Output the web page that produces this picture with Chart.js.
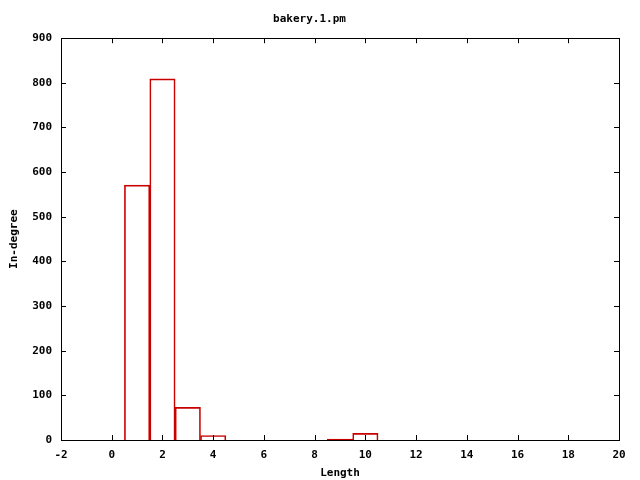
<!DOCTYPE html>
<html>
<head>
<meta charset="utf-8">
<script src="https://cdn.jsdelivr.net/npm/chart.js@4/dist/chart.umd.min.js"></script>
<style>
  html, body { margin: 0; padding: 0; background: #fff; }
  #wrap { width: 640px; height: 480px; }
</style>
</head>
<body>
<div id="wrap"><canvas id="histo"></canvas></div>
<script>
const lengths = [1, 2, 3, 4, 9, 10];
const inDegree = [571, 809, 73, 10, 2, 15];
const xTicks = [-2, 0, 2, 4, 6, 8, 10, 12, 14, 16, 18, 20];
const yTicks = [0, 100, 200, 300, 400, 500, 600, 700, 800, 900];

const monoFont = { family: "'DejaVu Sans Mono', monospace", size: 11, weight: 'bold' };

// gnuplot style frame: box plus inward ticks mirrored on all four sides
const frame = {
  id: 'frame',
  afterDatasetsDraw(chart) {
    const { ctx, chartArea: a, scales } = chart;
    const tl = 5;
    ctx.save();
    ctx.strokeStyle = '#000';
    ctx.lineWidth = 1;
    ctx.beginPath();
    scales.x.ticks.forEach(t => {
      const px = Math.round(scales.x.getPixelForValue(t.value)) + 0.5;
      ctx.moveTo(px, a.bottom); ctx.lineTo(px, a.bottom - tl);
      ctx.moveTo(px, a.top); ctx.lineTo(px, a.top + tl);
    });
    scales.y.ticks.forEach(t => {
      const py = Math.round(scales.y.getPixelForValue(t.value)) + 0.5;
      ctx.moveTo(a.left, py); ctx.lineTo(a.left + tl, py);
      ctx.moveTo(a.right, py); ctx.lineTo(a.right - tl, py);
    });
    ctx.stroke();
    ctx.strokeRect(Math.round(a.left) + 0.5, Math.round(a.top) + 0.5,
      Math.round(a.right - a.left), Math.round(a.bottom - a.top));
    ctx.restore();
  }
};

new Chart(document.getElementById('histo'), {
  type: 'bar',
  data: {
    datasets: [{
      data: lengths.map((x, i) => ({ x: x, y: inDegree[i] })),
      backgroundColor: 'rgba(0,0,0,0)',
      borderColor: '#c80000',
      borderWidth: 1,
      barPercentage: 1,
      categoryPercentage: 1
    }]
  },
  options: {
    responsive: true,
    maintainAspectRatio: false,
    animation: false,
    layout: { padding: { left: 0, right: 21, top: 0, bottom: 0 } },
    plugins: {
      legend: { display: false },
      tooltip: { enabled: false },
      title: {
        display: true,
        text: 'bakery.1.pm',
        color: '#000',
        font: monoFont,
        padding: { top: 13, bottom: 12 }
      }
    },
    scales: {
      x: {
        type: 'linear',
        offset: false,
        min: -2,
        max: 20,
        afterBuildTicks: s => { s.ticks = xTicks.map(v => ({ value: v })); },
        afterFit: s => { s.height = 40; },
        grid: { display: false, drawTicks: false, offset: false },
        border: { display: false },
        ticks: { color: '#000', font: monoFont, padding: 9, maxRotation: 0 },
        title: { display: true, text: 'Length', color: '#000', font: monoFont, padding: { top: 3, bottom: 0 } }
      },
      y: {
        min: 0,
        max: 900,
        afterBuildTicks: s => { s.ticks = yTicks.map(v => ({ value: v })); },
        afterFit: s => { s.width = 61; },
        grid: { display: false, drawTicks: false },
        border: { display: false },
        ticks: { color: '#000', font: monoFont, padding: 9 },
        title: { display: true, text: 'In-degree', color: '#000', font: monoFont, padding: { top: 8, bottom: 0 } }
      }
    }
  },
  plugins: [frame]
});
</script>
</body>
</html>
